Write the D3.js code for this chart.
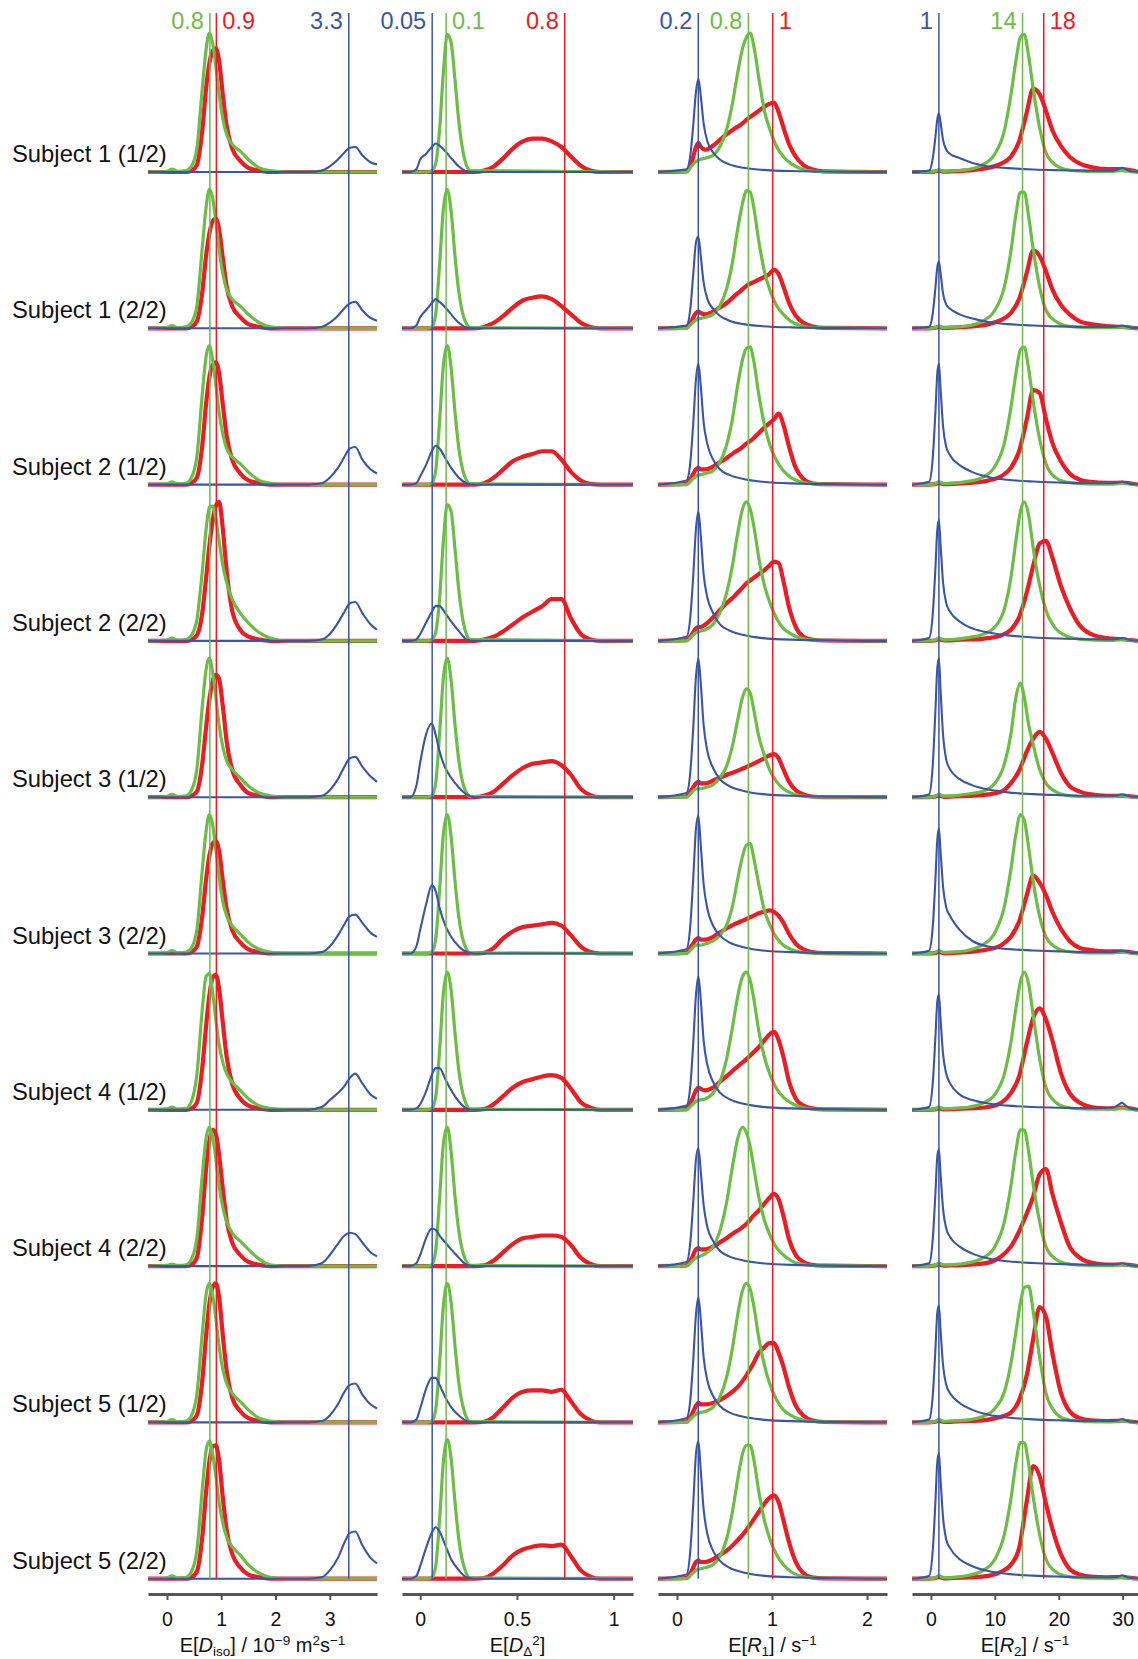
<!DOCTYPE html>
<html>
<head>
<meta charset="utf-8" />
<style>
  body { margin: 0; background-color: white; }
  text { font-family: "Liberation Sans", Arial, sans-serif; }
</style>
<script src="https://d3js.org/d3.v7.min.js"></script>
</head>
<body>
<script>
// ---- data (heights as fraction of the panel peak height) ----
var subjects = ["Subject 1 (1/2)", "Subject 1 (2/2)", "Subject 2 (1/2)", "Subject 2 (2/2)", "Subject 3 (1/2)",
    "Subject 3 (2/2)", "Subject 4 (1/2)", "Subject 4 (2/2)", "Subject 5 (1/2)", "Subject 5 (2/2)"];

// E[Diso]
var disoTicks = [0, 1, 2, 3];
var disoRefs = [0.79, 0.91, 3.35];          // green, red, blue
var disoRefLabels = ["0.8", "0.9", "3.3"];
var disoGrid = [-0.35, 0, 0.09, 0.2, 0.35, 0.45, 0.55, 0.65, 0.72, 0.78, 0.84, 0.9, 0.96, 1.03, 1.1, 1.2, 1.35, 1.5, 1.7, 1.9, 2.2, 3.87];
var disoGridBlue = [-0.35, 2.6, 2.85, 3.0, 3.15, 3.27, 3.37, 3.47, 3.6, 3.75, 3.87];
var disoGreen = [
    [0, 0.005, 0.02, 0.005, 0.01, 0.04, 0.17, 0.6, 0.88, 1.0, 0.93, 0.76, 0.56, 0.38, 0.27, 0.2, 0.15, 0.09, 0.03, 0.01, 0, 0],
    [0, 0.005, 0.02, 0.005, 0.01, 0.04, 0.16, 0.58, 0.87, 1.0, 0.94, 0.77, 0.57, 0.39, 0.28, 0.21, 0.16, 0.1, 0.04, 0.01, 0, 0],
    [0, 0.005, 0.02, 0.005, 0.01, 0.05, 0.2, 0.65, 0.92, 1.0, 0.9, 0.72, 0.52, 0.36, 0.26, 0.2, 0.15, 0.09, 0.03, 0.01, 0, 0],
    [0, 0.005, 0.02, 0.005, 0.01, 0.04, 0.15, 0.5, 0.8, 0.96, 0.97, 0.88, 0.72, 0.54, 0.42, 0.3, 0.2, 0.13, 0.06, 0.02, 0, 0],
    [0, 0.005, 0.02, 0.005, 0.01, 0.05, 0.2, 0.65, 0.92, 1.0, 0.9, 0.72, 0.52, 0.36, 0.26, 0.2, 0.14, 0.08, 0.03, 0.01, 0, 0],
    [0, 0.005, 0.02, 0.005, 0.01, 0.04, 0.17, 0.6, 0.88, 1.0, 0.93, 0.75, 0.55, 0.37, 0.27, 0.2, 0.14, 0.08, 0.03, 0.01, 0, 0],
    [0, 0.005, 0.02, 0.005, 0.01, 0.06, 0.25, 0.72, 0.96, 0.98, 0.85, 0.65, 0.47, 0.34, 0.26, 0.2, 0.14, 0.08, 0.03, 0.01, 0, 0],
    [0, 0.005, 0.015, 0.005, 0.01, 0.05, 0.2, 0.65, 0.92, 1.0, 0.93, 0.78, 0.58, 0.42, 0.32, 0.24, 0.18, 0.12, 0.05, 0.01, 0, 0],
    [0, 0.005, 0.02, 0.005, 0.01, 0.05, 0.2, 0.64, 0.92, 1.0, 0.92, 0.75, 0.55, 0.38, 0.28, 0.21, 0.15, 0.09, 0.03, 0.01, 0, 0],
    [0, 0.005, 0.02, 0.005, 0.01, 0.05, 0.2, 0.64, 0.92, 0.99, 0.9, 0.74, 0.55, 0.4, 0.3, 0.23, 0.17, 0.1, 0.04, 0.01, 0, 0]
];
var disoRed = [
    [0, 0, 0, 0, 0, 0.01, 0.05, 0.3, 0.6, 0.78, 0.87, 0.89, 0.8, 0.55, 0.33, 0.17, 0.08, 0.03, 0.01, 0, 0, 0],
    [0, 0, 0, 0, 0, 0.01, 0.05, 0.26, 0.52, 0.68, 0.77, 0.79, 0.71, 0.5, 0.3, 0.16, 0.08, 0.03, 0.01, 0, 0, 0],
    [0, 0, 0, 0, 0, 0.01, 0.05, 0.28, 0.58, 0.77, 0.86, 0.88, 0.8, 0.57, 0.35, 0.18, 0.08, 0.03, 0.01, 0, 0, 0],
    [0, 0, 0, 0, 0, 0.01, 0.04, 0.2, 0.45, 0.68, 0.86, 0.97, 1.0, 0.8, 0.5, 0.22, 0.08, 0.03, 0.01, 0, 0, 0],
    [0, 0, 0, 0, 0, 0.01, 0.04, 0.24, 0.5, 0.7, 0.83, 0.88, 0.85, 0.65, 0.4, 0.2, 0.09, 0.03, 0.01, 0, 0, 0],
    [0, 0, 0, 0, 0, 0.01, 0.05, 0.27, 0.53, 0.7, 0.79, 0.81, 0.74, 0.52, 0.32, 0.17, 0.08, 0.03, 0.01, 0, 0, 0],
    [0, 0, 0, 0, 0, 0.01, 0.05, 0.3, 0.6, 0.82, 0.95, 0.97, 0.87, 0.62, 0.38, 0.19, 0.08, 0.03, 0.01, 0, 0, 0],
    [0, 0, 0, 0, 0, 0.01, 0.06, 0.36, 0.7, 0.9, 0.98, 0.95, 0.8, 0.55, 0.33, 0.17, 0.08, 0.03, 0.01, 0, 0, 0],
    [0, 0, 0, 0, 0, 0.01, 0.05, 0.3, 0.62, 0.85, 0.97, 1.0, 0.9, 0.62, 0.37, 0.18, 0.08, 0.03, 0.01, 0, 0, 0],
    [0, 0, 0, 0, 0, 0.01, 0.05, 0.3, 0.62, 0.84, 0.95, 0.96, 0.85, 0.58, 0.35, 0.18, 0.08, 0.03, 0.01, 0, 0, 0]
];
var disoBlue = [
    [0, 0, 0.01, 0.04, 0.09, 0.14, 0.175, 0.18, 0.12, 0.07, 0.055],
    [0, 0, 0.01, 0.04, 0.09, 0.145, 0.18, 0.19, 0.13, 0.075, 0.055],
    [0, 0, 0.01, 0.05, 0.12, 0.2, 0.26, 0.27, 0.18, 0.11, 0.08],
    [0, 0, 0.01, 0.05, 0.13, 0.21, 0.27, 0.28, 0.2, 0.12, 0.08],
    [0, 0, 0.01, 0.05, 0.13, 0.22, 0.28, 0.29, 0.22, 0.15, 0.11],
    [0, 0, 0.01, 0.05, 0.13, 0.21, 0.27, 0.28, 0.22, 0.15, 0.12],
    [0, 0, 0.02, 0.07, 0.12, 0.17, 0.23, 0.26, 0.19, 0.11, 0.08],
    [0, 0, 0.02, 0.08, 0.16, 0.22, 0.24, 0.23, 0.17, 0.1, 0.07],
    [0, 0, 0.01, 0.05, 0.13, 0.22, 0.27, 0.28, 0.2, 0.13, 0.1],
    [0, 0, 0.01, 0.06, 0.15, 0.26, 0.33, 0.34, 0.24, 0.15, 0.11]
];

// E[DDelta^2]
var ddTicks = [0, 0.5, 1];
var ddRefs = [0.134, 0.747, 0.062];
var ddRefLabels = ["0.1", "0.8", "0.05"];
var ddGridGreen = [-0.094, 0.03, 0.06, 0.08, 0.1, 0.12, 0.14, 0.16, 0.18, 0.2, 0.23, 0.26, 1.1];
var ddGridRed = [-0.094, 0.28, 0.33, 0.38, 0.43, 0.48, 0.53, 0.58, 0.63, 0.68, 0.73, 0.78, 0.83, 0.88, 0.93, 1.1];
var ddGridBlue = [-0.094, -0.05, -0.02, 0.0, 0.03, 0.06, 0.08, 0.1, 0.13, 0.16, 0.2, 0.24, 0.28, 1.1];
var ddGreen = [
    [0, 0, 0.01, 0.06, 0.3, 0.72, 0.99, 0.93, 0.66, 0.36, 0.09, 0.01, 0],
    [0, 0, 0.01, 0.1, 0.45, 0.86, 1.0, 0.84, 0.52, 0.26, 0.06, 0.005, 0],
    [0, 0, 0.01, 0.1, 0.45, 0.86, 1.0, 0.84, 0.52, 0.26, 0.06, 0.005, 0],
    [0, 0, 0.01, 0.06, 0.3, 0.72, 0.98, 0.93, 0.66, 0.36, 0.09, 0.01, 0],
    [0, 0, 0.01, 0.1, 0.45, 0.86, 1.0, 0.84, 0.52, 0.26, 0.06, 0.005, 0],
    [0, 0, 0.01, 0.1, 0.45, 0.86, 1.0, 0.84, 0.52, 0.26, 0.06, 0.005, 0],
    [0, 0, 0.01, 0.09, 0.42, 0.84, 0.99, 0.86, 0.55, 0.28, 0.07, 0.005, 0],
    [0, 0, 0.01, 0.11, 0.48, 0.88, 1.0, 0.82, 0.5, 0.25, 0.06, 0.005, 0],
    [0, 0, 0.01, 0.09, 0.42, 0.84, 1.0, 0.86, 0.55, 0.28, 0.07, 0.005, 0],
    [0, 0, 0.01, 0.09, 0.42, 0.84, 1.0, 0.86, 0.55, 0.28, 0.07, 0.005, 0]
];
var ddRed = [
    [0, 0, 0.01, 0.04, 0.1, 0.17, 0.22, 0.24, 0.24, 0.22, 0.18, 0.11, 0.045, 0.01, 0, 0],
    [0, 0, 0.01, 0.04, 0.09, 0.15, 0.2, 0.22, 0.23, 0.21, 0.16, 0.1, 0.04, 0.01, 0, 0],
    [0, 0, 0.01, 0.05, 0.11, 0.17, 0.2, 0.22, 0.24, 0.24, 0.18, 0.09, 0.03, 0.005, 0, 0],
    [0, 0, 0.01, 0.03, 0.07, 0.12, 0.17, 0.21, 0.25, 0.3, 0.3, 0.16, 0.05, 0.01, 0, 0],
    [0, 0, 0.01, 0.04, 0.1, 0.16, 0.21, 0.24, 0.25, 0.26, 0.23, 0.16, 0.06, 0.015, 0, 0],
    [0, 0, 0.005, 0.04, 0.11, 0.16, 0.19, 0.2, 0.21, 0.22, 0.2, 0.13, 0.05, 0.01, 0, 0],
    [0, 0, 0.005, 0.04, 0.1, 0.16, 0.2, 0.22, 0.24, 0.25, 0.23, 0.15, 0.055, 0.015, 0, 0],
    [0, 0, 0.005, 0.04, 0.1, 0.16, 0.2, 0.21, 0.22, 0.22, 0.21, 0.15, 0.06, 0.015, 0, 0],
    [0, 0, 0.005, 0.04, 0.11, 0.18, 0.22, 0.23, 0.23, 0.22, 0.235, 0.15, 0.06, 0.015, 0, 0],
    [0, 0, 0.005, 0.04, 0.1, 0.17, 0.21, 0.23, 0.24, 0.235, 0.245, 0.16, 0.06, 0.015, 0, 0]
];
var ddBlue = [
    [0, 0, 0.02, 0.09, 0.13, 0.18, 0.205, 0.19, 0.15, 0.1, 0.04, 0.005, 0, 0],
    [0, 0, 0.02, 0.08, 0.13, 0.18, 0.21, 0.19, 0.15, 0.1, 0.04, 0.005, 0, 0],
    [0, 0, 0.01, 0.06, 0.14, 0.24, 0.28, 0.26, 0.19, 0.12, 0.05, 0.01, 0, 0],
    [0, 0, 0.01, 0.05, 0.13, 0.21, 0.25, 0.25, 0.2, 0.14, 0.07, 0.01, 0, 0],
    [0, 0, 0.08, 0.25, 0.45, 0.53, 0.45, 0.33, 0.21, 0.14, 0.07, 0.02, 0, 0],
    [0, 0, 0.05, 0.17, 0.35, 0.49, 0.45, 0.33, 0.2, 0.12, 0.05, 0.01, 0, 0],
    [0, 0, 0.01, 0.04, 0.13, 0.25, 0.3, 0.3, 0.22, 0.14, 0.06, 0.01, 0, 0],
    [0, 0, 0.02, 0.08, 0.2, 0.27, 0.26, 0.22, 0.17, 0.12, 0.06, 0.01, 0, 0],
    [0, 0, 0.02, 0.1, 0.24, 0.32, 0.32, 0.27, 0.18, 0.11, 0.05, 0.01, 0, 0],
    [0, 0, 0.02, 0.09, 0.22, 0.33, 0.37, 0.34, 0.24, 0.14, 0.06, 0.01, 0, 0]
];

// E[R1]
var r1Ticks = [0, 1, 2];
var r1Refs = [0.751, 1.007, 0.224];
var r1RefLabels = ["0.8", "1", "0.2"];
var r1GridGreen = [-0.2, 0.1, 0.15, 0.2, 0.24, 0.3, 0.38, 0.45, 0.52, 0.58, 0.64, 0.69, 0.73, 0.77, 0.81, 0.86, 0.92, 0.98, 1.05, 1.12, 1.2, 1.3, 1.45, 2.21];
var r1GridRed = [-0.2, 0.1, 0.15, 0.2, 0.225, 0.25, 0.3, 0.38, 0.45, 0.52, 0.6, 0.67, 0.74, 0.8, 0.86, 0.92, 0.97, 1.02, 1.07, 1.12, 1.18, 1.25, 1.33, 1.42, 1.55, 2.21];
var r1GridBlue = [-0.2, 0.1, 0.14, 0.17, 0.2, 0.225, 0.25, 0.28, 0.32, 0.38, 0.45, 0.55, 0.7, 0.9, 1.2, 2.21];
var r1Green = [
    [0, 0, 0.04, 0.075, 0.09, 0.1, 0.12, 0.18, 0.3, 0.48, 0.72, 0.89, 0.97, 1.0, 0.9, 0.68, 0.44, 0.3, 0.18, 0.11, 0.06, 0.025, 0.005, 0],
    [0, 0, 0.03, 0.06, 0.07, 0.08, 0.1, 0.16, 0.28, 0.46, 0.72, 0.9, 0.99, 0.98, 0.86, 0.63, 0.41, 0.27, 0.16, 0.1, 0.05, 0.02, 0.005, 0],
    [0, 0, 0.03, 0.06, 0.07, 0.08, 0.1, 0.16, 0.28, 0.46, 0.72, 0.9, 0.98, 0.99, 0.88, 0.65, 0.43, 0.28, 0.17, 0.1, 0.05, 0.02, 0.005, 0],
    [0, 0, 0.03, 0.06, 0.07, 0.08, 0.12, 0.2, 0.34, 0.53, 0.78, 0.95, 1.0, 0.95, 0.82, 0.6, 0.4, 0.27, 0.16, 0.09, 0.05, 0.02, 0.005, 0],
    [0, 0, 0.03, 0.06, 0.06, 0.07, 0.09, 0.14, 0.22, 0.36, 0.56, 0.72, 0.78, 0.75, 0.62, 0.44, 0.3, 0.19, 0.11, 0.06, 0.03, 0.01, 0.003, 0],
    [0, 0, 0.03, 0.06, 0.06, 0.07, 0.09, 0.13, 0.2, 0.33, 0.54, 0.7, 0.78, 0.79, 0.68, 0.5, 0.31, 0.2, 0.11, 0.06, 0.03, 0.01, 0.003, 0],
    [0, 0, 0.03, 0.06, 0.07, 0.08, 0.12, 0.2, 0.36, 0.58, 0.82, 0.96, 0.99, 0.93, 0.79, 0.57, 0.38, 0.25, 0.15, 0.09, 0.05, 0.02, 0.005, 0],
    [0, 0, 0.03, 0.06, 0.07, 0.09, 0.14, 0.25, 0.45, 0.7, 0.92, 1.0, 0.96, 0.86, 0.7, 0.5, 0.33, 0.22, 0.13, 0.08, 0.04, 0.015, 0.004, 0],
    [0, 0, 0.03, 0.06, 0.07, 0.08, 0.11, 0.18, 0.32, 0.52, 0.78, 0.95, 1.0, 0.96, 0.83, 0.61, 0.41, 0.27, 0.16, 0.09, 0.05, 0.02, 0.005, 0],
    [0, 0, 0.03, 0.06, 0.07, 0.08, 0.1, 0.16, 0.28, 0.47, 0.72, 0.9, 0.96, 0.96, 0.85, 0.63, 0.42, 0.28, 0.17, 0.1, 0.05, 0.02, 0.005, 0]
];
var r1Red = [
    [0, 0.005, 0.06, 0.18, 0.21, 0.18, 0.16, 0.19, 0.23, 0.27, 0.31, 0.34, 0.38, 0.41, 0.44, 0.47, 0.49, 0.5, 0.43, 0.32, 0.2, 0.11, 0.05, 0.02, 0.005, 0],
    [0, 0.005, 0.05, 0.11, 0.12, 0.11, 0.1, 0.12, 0.15, 0.18, 0.23, 0.27, 0.31, 0.33, 0.35, 0.37, 0.39, 0.42, 0.39, 0.3, 0.18, 0.09, 0.04, 0.015, 0.003, 0],
    [0, 0.005, 0.05, 0.11, 0.12, 0.11, 0.11, 0.13, 0.16, 0.19, 0.23, 0.26, 0.3, 0.33, 0.37, 0.41, 0.44, 0.47, 0.51, 0.43, 0.27, 0.12, 0.04, 0.01, 0.003, 0],
    [0, 0.005, 0.04, 0.09, 0.1, 0.1, 0.12, 0.17, 0.22, 0.27, 0.32, 0.37, 0.42, 0.45, 0.48, 0.51, 0.54, 0.57, 0.56, 0.43, 0.24, 0.1, 0.03, 0.01, 0.003, 0],
    [0, 0.005, 0.05, 0.1, 0.11, 0.1, 0.1, 0.12, 0.14, 0.16, 0.18, 0.2, 0.22, 0.24, 0.26, 0.28, 0.3, 0.31, 0.28, 0.2, 0.11, 0.05, 0.02, 0.005, 0, 0],
    [0, 0.005, 0.05, 0.1, 0.11, 0.1, 0.1, 0.12, 0.15, 0.18, 0.21, 0.23, 0.25, 0.27, 0.29, 0.3, 0.31, 0.3, 0.27, 0.22, 0.14, 0.07, 0.03, 0.01, 0.003, 0],
    [0, 0.005, 0.06, 0.14, 0.16, 0.15, 0.14, 0.16, 0.2, 0.24, 0.29, 0.33, 0.37, 0.41, 0.45, 0.5, 0.54, 0.56, 0.5, 0.38, 0.2, 0.08, 0.03, 0.01, 0.003, 0],
    [0, 0.005, 0.05, 0.12, 0.13, 0.12, 0.12, 0.14, 0.17, 0.2, 0.24, 0.27, 0.31, 0.36, 0.4, 0.45, 0.49, 0.52, 0.48, 0.36, 0.19, 0.08, 0.03, 0.01, 0.003, 0],
    [0, 0.005, 0.05, 0.12, 0.14, 0.13, 0.13, 0.14, 0.16, 0.19, 0.23, 0.28, 0.35, 0.42, 0.5, 0.54, 0.57, 0.57, 0.5, 0.4, 0.25, 0.12, 0.05, 0.015, 0.003, 0],
    [0, 0.005, 0.05, 0.12, 0.13, 0.12, 0.12, 0.14, 0.17, 0.2, 0.25, 0.3, 0.36, 0.42, 0.48, 0.54, 0.58, 0.6, 0.55, 0.42, 0.26, 0.12, 0.04, 0.01, 0.003, 0]
];
var r1Blue = [
    [0, 0.02, 0.12, 0.33, 0.58, 0.67, 0.55, 0.35, 0.22, 0.14, 0.09, 0.055, 0.03, 0.015, 0.007, 0],
    [0, 0.02, 0.14, 0.38, 0.62, 0.66, 0.52, 0.33, 0.21, 0.14, 0.09, 0.055, 0.03, 0.015, 0.007, 0],
    [0, 0.03, 0.16, 0.43, 0.76, 0.87, 0.71, 0.45, 0.29, 0.18, 0.11, 0.07, 0.04, 0.02, 0.009, 0],
    [0, 0.03, 0.17, 0.46, 0.81, 0.93, 0.76, 0.48, 0.31, 0.2, 0.12, 0.075, 0.042, 0.02, 0.009, 0],
    [0, 0.03, 0.18, 0.49, 0.87, 1.0, 0.82, 0.52, 0.33, 0.21, 0.13, 0.08, 0.045, 0.022, 0.01, 0],
    [0, 0.03, 0.2, 0.53, 0.9, 0.99, 0.78, 0.5, 0.32, 0.2, 0.13, 0.08, 0.045, 0.022, 0.01, 0],
    [0, 0.03, 0.17, 0.47, 0.83, 0.96, 0.79, 0.5, 0.32, 0.2, 0.125, 0.077, 0.043, 0.021, 0.01, 0],
    [0, 0.03, 0.17, 0.45, 0.77, 0.85, 0.68, 0.44, 0.28, 0.18, 0.11, 0.07, 0.04, 0.02, 0.009, 0],
    [0, 0.03, 0.16, 0.44, 0.78, 0.9, 0.74, 0.47, 0.3, 0.19, 0.12, 0.072, 0.04, 0.02, 0.009, 0],
    [0, 0.03, 0.2, 0.53, 0.9, 0.99, 0.78, 0.5, 0.32, 0.2, 0.13, 0.08, 0.045, 0.022, 0.01, 0]
];

// E[R2]
var r2Ticks = [0, 10, 20, 30];
var r2Refs = [14.33, 17.65, 1.25];
var r2RefLabels = ["14", "18", "1"];
var r2GridGreen = [-2.96, -0.3, 0.6, 1.25, 2.0, 3.5, 6, 8, 10, 11.5, 12.5, 13.3, 14.0, 14.6, 15.3, 16.0, 17.0, 18.0, 19.5, 21, 23, 26, 28.5, 29.9, 31.3, 32.4];
var r2GridRed = [-2.96, -0.3, 0.6, 1.25, 2.0, 3.5, 6, 9, 11, 12.5, 13.8, 15, 16, 17, 18, 19, 20.3, 21.7, 23.3, 25, 27.5, 29.9, 32.4];
var r2GridBlue = [-2.96, -0.3, 0.3, 0.7, 1.0, 1.25, 1.5, 1.9, 2.4, 3.0, 4.5, 6.5, 9, 12, 16, 20, 25, 28.5, 29.3, 29.9, 30.5, 31.3, 32.4];
var r2Green = [
    [0, 0, 0.005, 0.015, 0.005, 0.008, 0.02, 0.05, 0.13, 0.3, 0.55, 0.8, 0.97, 0.99, 0.83, 0.6, 0.32, 0.14, 0.05, 0.02, 0.008, 0.004, 0.004, 0.01, 0.003, 0],
    [0, 0, 0.005, 0.015, 0.005, 0.008, 0.02, 0.05, 0.13, 0.3, 0.55, 0.82, 0.98, 0.98, 0.8, 0.57, 0.3, 0.13, 0.05, 0.02, 0.008, 0.004, 0.004, 0.008, 0.003, 0],
    [0, 0, 0.005, 0.02, 0.008, 0.01, 0.025, 0.05, 0.13, 0.3, 0.55, 0.8, 0.97, 0.99, 0.83, 0.6, 0.33, 0.15, 0.05, 0.02, 0.008, 0.004, 0.004, 0.01, 0.003, 0],
    [0, 0, 0.005, 0.02, 0.008, 0.01, 0.025, 0.045, 0.1, 0.23, 0.45, 0.72, 0.93, 1.0, 0.9, 0.67, 0.4, 0.22, 0.09, 0.04, 0.015, 0.006, 0.004, 0.01, 0.003, 0],
    [0, 0, 0.005, 0.02, 0.008, 0.01, 0.025, 0.04, 0.1, 0.24, 0.45, 0.72, 0.82, 0.72, 0.52, 0.38, 0.2, 0.1, 0.04, 0.015, 0.006, 0.004, 0.004, 0.01, 0.003, 0],
    [0, 0, 0.005, 0.02, 0.008, 0.01, 0.025, 0.06, 0.15, 0.34, 0.6, 0.86, 1.0, 0.96, 0.76, 0.52, 0.27, 0.12, 0.045, 0.018, 0.008, 0.004, 0.004, 0.01, 0.003, 0],
    [0, 0, 0.005, 0.02, 0.008, 0.01, 0.02, 0.045, 0.11, 0.26, 0.48, 0.73, 0.92, 0.99, 0.9, 0.68, 0.37, 0.16, 0.055, 0.02, 0.008, 0.004, 0.004, 0.01, 0.003, 0],
    [0, 0, 0.005, 0.02, 0.008, 0.01, 0.025, 0.055, 0.14, 0.32, 0.57, 0.83, 0.98, 0.98, 0.82, 0.59, 0.32, 0.14, 0.05, 0.02, 0.008, 0.004, 0.004, 0.01, 0.003, 0],
    [0, 0, 0.005, 0.02, 0.008, 0.01, 0.02, 0.04, 0.1, 0.22, 0.42, 0.65, 0.86, 0.97, 0.98, 0.8, 0.47, 0.21, 0.07, 0.025, 0.01, 0.004, 0.004, 0.01, 0.003, 0],
    [0, 0, 0.005, 0.02, 0.008, 0.01, 0.025, 0.055, 0.14, 0.32, 0.57, 0.83, 0.98, 0.98, 0.82, 0.59, 0.32, 0.14, 0.05, 0.02, 0.008, 0.004, 0.004, 0.01, 0.003, 0]
];
var r2Red = [
    [0, 0, 0.003, 0.01, 0.003, 0.005, 0.012, 0.03, 0.06, 0.11, 0.22, 0.43, 0.6, 0.56, 0.44, 0.3, 0.19, 0.11, 0.06, 0.035, 0.02, 0.02, 0],
    [0, 0, 0.003, 0.01, 0.003, 0.005, 0.012, 0.03, 0.06, 0.11, 0.21, 0.4, 0.56, 0.52, 0.41, 0.28, 0.17, 0.1, 0.05, 0.03, 0.015, 0.01, 0],
    [0, 0, 0.003, 0.012, 0.003, 0.005, 0.012, 0.03, 0.06, 0.12, 0.24, 0.47, 0.68, 0.66, 0.47, 0.3, 0.17, 0.08, 0.035, 0.02, 0.012, 0.015, 0],
    [0, 0, 0.003, 0.012, 0.003, 0.005, 0.01, 0.02, 0.04, 0.08, 0.17, 0.35, 0.54, 0.7, 0.72, 0.6, 0.4, 0.24, 0.11, 0.05, 0.02, 0.012, 0],
    [0, 0, 0.003, 0.012, 0.003, 0.005, 0.01, 0.02, 0.04, 0.1, 0.19, 0.33, 0.42, 0.47, 0.42, 0.32, 0.18, 0.08, 0.04, 0.02, 0.01, 0.01, 0],
    [0, 0, 0.003, 0.012, 0.003, 0.005, 0.012, 0.03, 0.06, 0.12, 0.23, 0.42, 0.56, 0.51, 0.42, 0.3, 0.18, 0.09, 0.04, 0.025, 0.015, 0.015, 0],
    [0, 0, 0.003, 0.012, 0.003, 0.005, 0.01, 0.02, 0.05, 0.12, 0.24, 0.48, 0.66, 0.73, 0.65, 0.5, 0.27, 0.12, 0.05, 0.02, 0.01, 0.015, 0],
    [0, 0, 0.003, 0.012, 0.003, 0.005, 0.01, 0.025, 0.07, 0.14, 0.25, 0.38, 0.5, 0.66, 0.7, 0.52, 0.32, 0.14, 0.06, 0.025, 0.01, 0.012, 0],
    [0, 0, 0.003, 0.012, 0.003, 0.005, 0.01, 0.02, 0.04, 0.07, 0.16, 0.34, 0.6, 0.83, 0.76, 0.5, 0.22, 0.08, 0.03, 0.015, 0.01, 0.012, 0],
    [0, 0, 0.003, 0.012, 0.003, 0.005, 0.01, 0.02, 0.05, 0.1, 0.22, 0.56, 0.81, 0.74, 0.54, 0.36, 0.18, 0.07, 0.03, 0.015, 0.01, 0.012, 0]
];
var r2Blue = [
    [0, 0.01, 0.1, 0.25, 0.38, 0.42, 0.36, 0.23, 0.16, 0.13, 0.1, 0.065, 0.04, 0.028, 0.018, 0.013, 0.01, 0.01, 0.02, 0.03, 0.02, 0.005, 0.003],
    [0, 0.01, 0.11, 0.29, 0.44, 0.48, 0.4, 0.25, 0.17, 0.14, 0.1, 0.07, 0.045, 0.03, 0.02, 0.014, 0.01, 0.01, 0.015, 0.02, 0.015, 0.005, 0.003],
    [0, 0.02, 0.2, 0.52, 0.8, 0.87, 0.7, 0.42, 0.27, 0.21, 0.14, 0.09, 0.055, 0.035, 0.022, 0.015, 0.01, 0.01, 0.015, 0.02, 0.015, 0.005, 0.003],
    [0, 0.02, 0.2, 0.52, 0.8, 0.87, 0.7, 0.42, 0.27, 0.21, 0.14, 0.09, 0.06, 0.04, 0.025, 0.017, 0.012, 0.01, 0.015, 0.02, 0.015, 0.005, 0.003],
    [0, 0.02, 0.24, 0.62, 0.93, 1.0, 0.78, 0.45, 0.27, 0.2, 0.13, 0.085, 0.055, 0.035, 0.022, 0.015, 0.01, 0.01, 0.015, 0.02, 0.015, 0.005, 0.003],
    [0, 0.02, 0.2, 0.53, 0.82, 0.9, 0.74, 0.48, 0.33, 0.27, 0.17, 0.09, 0.05, 0.032, 0.022, 0.015, 0.01, 0.01, 0.015, 0.02, 0.015, 0.005, 0.003],
    [0, 0.02, 0.2, 0.52, 0.78, 0.83, 0.66, 0.4, 0.26, 0.19, 0.11, 0.07, 0.045, 0.03, 0.02, 0.015, 0.012, 0.015, 0.035, 0.05, 0.03, 0.008, 0.003],
    [0, 0.02, 0.2, 0.52, 0.79, 0.84, 0.67, 0.41, 0.27, 0.21, 0.14, 0.09, 0.055, 0.035, 0.022, 0.015, 0.01, 0.01, 0.015, 0.02, 0.015, 0.005, 0.003],
    [0, 0.02, 0.2, 0.52, 0.79, 0.84, 0.67, 0.41, 0.27, 0.21, 0.14, 0.09, 0.055, 0.035, 0.022, 0.015, 0.01, 0.01, 0.015, 0.025, 0.015, 0.005, 0.003],
    [0, 0.02, 0.21, 0.55, 0.84, 0.9, 0.72, 0.44, 0.28, 0.22, 0.14, 0.09, 0.055, 0.035, 0.022, 0.015, 0.01, 0.01, 0.015, 0.025, 0.015, 0.005, 0.003]
];

// ---- layout ----
var width = 1138,
    height = 1659;
var rowBase0 = 172,
    rowStep = 156.3,
    peakH = 139;
var axisY = 1594;
var colors = { green: "#6cbd45", red: "#ec1c24", blue: "#3b55a5" };
var widths = { green: 3.2, red: 4.2, blue: 2.1 };

// columns table built from the arrays above
var columns = [
    {
        range: [148, 377], domain: [-0.35, 3.87], ticks: disoTicks,
        grids: { green: disoGrid, red: disoGrid, blue: disoGridBlue },
        values: { green: disoGreen, red: disoRed, blue: disoBlue },
        refs: { green: disoRefs[0], red: disoRefs[1], blue: disoRefs[2] },
        labels: { green: disoRefLabels[0], red: disoRefLabels[1], blue: disoRefLabels[2] },
        side: { green: -1, red: 1, blue: -1 },
        title: [["E[", ""], ["D", "i"], ["iso", "sub"], ["] / 10", ""], ["\u22129", "sup"], [" m", ""], ["2", "sup"], ["s", ""], ["\u22121", "sup"]]
    },
    {
        range: [402, 633], domain: [-0.094, 1.1], ticks: ddTicks,
        grids: { green: ddGridGreen, red: ddGridRed, blue: ddGridBlue },
        values: { green: ddGreen, red: ddRed, blue: ddBlue },
        refs: { green: ddRefs[0], red: ddRefs[1], blue: ddRefs[2] },
        labels: { green: ddRefLabels[0], red: ddRefLabels[1], blue: ddRefLabels[2] },
        side: { green: 1, red: -1, blue: -1 },
        title: [["E[", ""], ["D", "i"], ["\u0394", "sub"], ["2", "sup"], ["]", ""]]
    },
    {
        range: [658, 887], domain: [-0.2, 2.21], ticks: r1Ticks,
        grids: { green: r1GridGreen, red: r1GridRed, blue: r1GridBlue },
        values: { green: r1Green, red: r1Red, blue: r1Blue },
        refs: { green: r1Refs[0], red: r1Refs[1], blue: r1Refs[2] },
        labels: { green: r1RefLabels[0], red: r1RefLabels[1], blue: r1RefLabels[2] },
        side: { green: -1, red: 1, blue: -1 },
        title: [["E[", ""], ["R", "i"], ["1", "sub"], ["] / s", ""], ["\u22121", "sup"]]
    },
    {
        range: [912, 1138], domain: [-2.96, 32.4], ticks: r2Ticks,
        grids: { green: r2GridGreen, red: r2GridRed, blue: r2GridBlue },
        values: { green: r2Green, red: r2Red, blue: r2Blue },
        refs: { green: r2Refs[0], red: r2Refs[1], blue: r2Refs[2] },
        labels: { green: r2RefLabels[0], red: r2RefLabels[1], blue: r2RefLabels[2] },
        side: { green: -1, red: 1, blue: -1 },
        title: [["E[", ""], ["R", "i"], ["2", "sub"], ["] / s", ""], ["\u22121", "sup"]]
    }
];

var svg = d3.select("body").append("svg")
    .attr("width", width)
    .attr("height", height);
svg.append("rect").attr("width", width).attr("height", height).attr("fill", "white");

var rowY = d3.scaleLinear().domain([0, subjects.length - 1])
    .range([rowBase0, rowBase0 + rowStep * (subjects.length - 1)]);
var lastBase = rowY(subjects.length - 1);

// subject labels
svg.selectAll(".subject").data(subjects).enter().append("text")
    .attr("class", "subject")
    .attr("x", 12)
    .attr("y", function (d, i) { return rowY(i) - 10; })
    .attr("font-size", 23.8)
    .attr("fill", "#111")
    .text(function (d) { return d; });

function addTitle(g, segs, x, y) {
    var t = g.append("text").attr("x", x).attr("y", y)
        .attr("text-anchor", "middle").attr("font-size", 20).attr("fill", "#111");
    var off = 0;
    segs.forEach(function (s) {
        var target = s[1] === "sub" ? 4 : (s[1] === "sup" ? -7 : 0);
        var ts = t.append("tspan").attr("dy", target - off).text(s[0]);
        off = target;
        if (s[1] === "sub" || s[1] === "sup") ts.attr("font-size", 13.5);
        if (s[1] === "i") ts.attr("font-style", "italic");
    });
}

columns.forEach(function (col) {
    var x = d3.scaleLinear().domain(col.domain).range(col.range);
    var g = svg.append("g");

    subjects.forEach(function (s, i) {
        var base = rowY(i);
        var y = d3.scaleLinear().domain([0, 1]).range([base, base - peakH]);
        ["red", "green", "blue"].forEach(function (c) {
            var grid = col.grids[c];
            var vals = col.values[c][i];
            var line = d3.line()
                .x(function (d, k) { return x(grid[k]); })
                .y(function (d) { return y(d); })
                .curve(d3.curveMonotoneX);
            g.append("path")
                .attr("d", line(vals))
                .attr("fill", "none")
                .attr("stroke", colors[c])
                .attr("stroke-width", widths[c])
                .attr("stroke-linejoin", "round");
        });
    });

    // reference lines and labels
    ["green", "red", "blue"].forEach(function (c) {
        var xv = x(col.refs[c]);
        g.append("line")
            .attr("x1", xv).attr("x2", xv)
            .attr("y1", 13).attr("y2", lastBase)
            .attr("stroke", colors[c])
            .attr("stroke-width", 1.5);
        g.append("text")
            .attr("x", xv + col.side[c] * 6)
            .attr("y", 29)
            .attr("text-anchor", col.side[c] < 0 ? "end" : "start")
            .attr("font-size", 23.5)
            .attr("fill", colors[c])
            .text(col.labels[c]);
    });

    // axis
    var axis = d3.axisBottom(x)
        .tickValues(col.ticks)
        .tickSize(6)
        .tickSizeOuter(0)
        .tickPadding(12)
        .tickFormat(function (d) { return String(d); });
    var ag = svg.append("g")
        .attr("transform", "translate(0," + axisY + ")")
        .call(axis);
    ag.attr("font-family", null).attr("font-size", null);
    ag.select(".domain").attr("stroke", "#555").attr("stroke-width", 3);
    ag.selectAll(".tick line").attr("stroke", "#555").attr("stroke-width", 2);
    ag.selectAll(".tick text").attr("font-size", 19.5).attr("fill", "#111");

    addTitle(svg, col.title, (col.range[0] + col.range[1]) / 2, 1652);
});
</script>
</body>
</html>
